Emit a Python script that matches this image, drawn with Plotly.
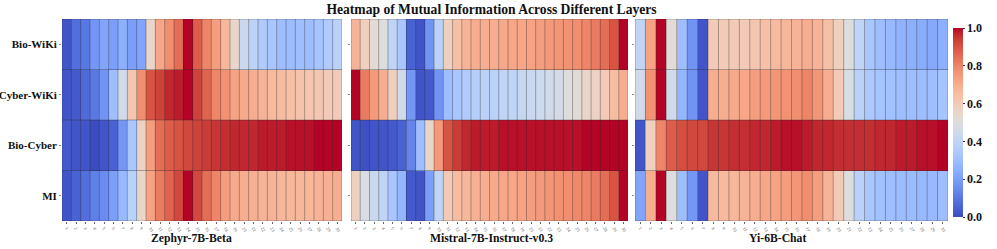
import plotly.graph_objects as go

rows = ["Bio-WiKi", "Cyber-WiKi", "Bio-Cyber", "MI"]
layers = list(range(1, 31))
models = ["Zephyr-7B-Beta", "Mistral-7B-Instruct-v0.3", "Yi-6B-Chat"]

zephyr_bio_wiki = [0.02, 0.08, 0.10, 0.18, 0.22, 0.20, 0.25, 0.20, 0.22, 0.55, 0.72, 0.78, 0.85, 1.00, 0.88,
                   0.80, 0.74, 0.67, 0.55, 0.43, 0.39, 0.35, 0.33, 0.30, 0.29, 0.30, 0.30, 0.32, 0.35, 0.38]
zephyr_cyber_wiki = [0.02, 0.03, 0.07, 0.10, 0.17, 0.30, 0.45, 0.62, 0.78, 0.90, 0.93, 0.97, 0.98, 1.00, 0.93,
                     0.87, 0.80, 0.77, 0.73, 0.71, 0.70, 0.68, 0.66, 0.65, 0.64, 0.63, 0.62, 0.61, 0.60, 0.60]
zephyr_bio_cyber = [0.03, 0.02, 0.02, 0.00, 0.02, 0.05, 0.18, 0.33, 0.57, 0.74, 0.85, 0.88, 0.90, 0.92, 0.93,
                    0.94, 0.95, 0.96, 0.97, 0.97, 0.97, 0.98, 0.98, 0.98, 0.99, 0.99, 0.99, 1.00, 1.00, 1.00]
zephyr_mi = [0.02, 0.05, 0.08, 0.12, 0.15, 0.20, 0.28, 0.38, 0.55, 0.73, 0.82, 0.87, 0.92, 1.00, 0.92,
             0.85, 0.80, 0.74, 0.71, 0.70, 0.69, 0.68, 0.68, 0.67, 0.67, 0.67, 0.67, 0.68, 0.69, 0.70]

mistral_bio_wiki = [0.68, 0.58, 0.52, 0.50, 0.40, 0.33, 0.05, 0.02, 0.17, 0.38, 0.58, 0.64, 0.68, 0.70, 0.70,
                    0.70, 0.71, 0.72, 0.72, 0.73, 0.74, 0.75, 0.76, 0.77, 0.78, 0.80, 0.82, 0.85, 0.90, 1.00]
mistral_cyber_wiki = [1.00, 0.82, 0.75, 0.70, 0.58, 0.45, 0.18, 0.02, 0.03, 0.17, 0.30, 0.33, 0.35, 0.37, 0.38,
                      0.38, 0.40, 0.40, 0.42, 0.43, 0.44, 0.45, 0.47, 0.50, 0.52, 0.55, 0.57, 0.60, 0.65, 0.70]
mistral_bio_cyber = [0.02, 0.01, 0.02, 0.02, 0.03, 0.05, 0.13, 0.30, 0.55, 0.75, 0.90, 0.94, 0.97, 0.98, 0.98,
                     0.98, 0.99, 0.99, 0.99, 0.99, 0.99, 0.99, 0.99, 0.99, 0.99, 1.00, 1.00, 1.00, 1.00, 1.00]
mistral_mi = [0.58, 0.48, 0.43, 0.40, 0.33, 0.27, 0.03, 0.02, 0.20, 0.40, 0.60, 0.65, 0.67, 0.69, 0.70,
              0.71, 0.72, 0.72, 0.73, 0.74, 0.75, 0.76, 0.77, 0.78, 0.79, 0.80, 0.82, 0.85, 0.90, 1.00]

yi_bio_wiki = [0.40, 0.73, 1.00, 0.52, 0.30, 0.17, 0.02, 0.60, 0.60, 0.60, 0.60, 0.62, 0.64, 0.66, 0.67,
               0.68, 0.70, 0.68, 0.64, 0.58, 0.50, 0.40, 0.33, 0.30, 0.28, 0.26, 0.25, 0.24, 0.23, 0.25]
yi_cyber_wiki = [0.45, 0.77, 1.00, 0.45, 0.27, 0.17, 0.02, 0.70, 0.70, 0.71, 0.72, 0.74, 0.75, 0.76, 0.77,
                 0.78, 0.80, 0.76, 0.70, 0.60, 0.48, 0.38, 0.34, 0.32, 0.31, 0.30, 0.30, 0.30, 0.30, 0.32]
yi_bio_cyber = [0.02, 0.58, 0.80, 0.88, 0.91, 0.92, 0.92, 0.95, 0.95, 0.96, 0.96, 0.97, 0.97, 0.98, 0.99,
                0.99, 0.98, 0.97, 0.97, 0.96, 0.96, 0.96, 0.96, 0.97, 0.97, 0.98, 0.98, 0.99, 0.99, 1.00]
yi_mi = [0.22, 0.70, 1.00, 0.50, 0.30, 0.18, 0.02, 0.66, 0.66, 0.67, 0.68, 0.70, 0.72, 0.73, 0.74,
         0.76, 0.78, 0.74, 0.68, 0.60, 0.50, 0.38, 0.33, 0.31, 0.30, 0.29, 0.29, 0.28, 0.28, 0.30]

panels = [
    [zephyr_bio_wiki, zephyr_cyber_wiki, zephyr_bio_cyber, zephyr_mi],
    [mistral_bio_wiki, mistral_cyber_wiki, mistral_bio_cyber, mistral_mi],
    [yi_bio_wiki, yi_cyber_wiki, yi_bio_cyber, yi_mi],
]

# matplotlib "coolwarm" colormap
_cw = [(59, 76, 192), (68, 90, 204), (77, 104, 215), (87, 117, 225), (98, 130, 234), (108, 142, 241),
       (119, 154, 247), (130, 165, 251), (141, 176, 254), (152, 185, 255), (163, 194, 255), (174, 201, 253),
       (184, 208, 249), (194, 213, 244), (204, 217, 238), (213, 219, 230), (221, 221, 221), (229, 216, 209),
       (236, 211, 197), (241, 204, 185), (245, 196, 173), (247, 187, 160), (247, 177, 148), (247, 166, 135),
       (244, 154, 123), (241, 141, 111), (236, 127, 99), (229, 112, 88), (222, 96, 77), (213, 80, 66),
       (203, 62, 56), (192, 40, 47), (180, 4, 38)]
coolwarm = [[i / (len(_cw) - 1), "rgb(%d,%d,%d)" % c] for i, c in enumerate(_cw)]

W, H = 997, 249
x_px = [(62, 342), (351, 628), (635, 948)]
title_px = [191, 491.5, 777]
y_dom = [1 - 221 / H, 1 - 19 / H]
FONT = "Liberation Serif"
grid = "rgba(40,40,40,0.35)"

fig = go.Figure()
for i, (data, name) in enumerate(zip(panels, models)):
    n = "" if i == 0 else str(i + 1)
    fig.add_trace(go.Heatmap(
        z=data, x=layers, y=list(range(len(rows))),
        coloraxis="coloraxis", xaxis="x" + n, yaxis="y" + n,
        hovertemplate=name + "<br>%{text}<br>Layer %{x}: %{z:.2f}<extra></extra>",
        text=[[r] * len(layers) for r in rows],
    ))
    xa = dict(
        domain=[x_px[i][0] / W, x_px[i][1] / W], anchor="y" + n, automargin=False,
        range=[0.5, len(layers) + 0.5], tickmode="array", tickvals=layers,
        ticktext=[str(v) for v in layers], tickangle=60,
        tickfont=dict(family=FONT, size=4.5, color="#555"),
        ticks="outside", ticklen=2, tickwidth=0.5, tickcolor="#666",
        showgrid=False, zeroline=False, showline=False,
    )
    ya = dict(
        domain=y_dom, anchor="x" + n, range=[len(rows) - 0.5, -0.5], automargin=False,
        tickmode="array", tickvals=list(range(len(rows))),
        ticktext=["<b>%s</b>" % r for r in rows] if i == 0 else [""] * len(rows),
        tickfont=dict(family=FONT, size=11, color="#111"),
        ticks="outside", ticklen=2, tickwidth=0.5, tickcolor="#888",
        showgrid=False, zeroline=False, showline=False,
    )
    fig.layout["xaxis" + n] = xa
    fig.layout["yaxis" + n] = ya
    fig.add_annotation(text="<b>%s</b>" % name, xref="paper", yref="paper",
                       x=title_px[i] / W, y=1 - 238.5 / H, xanchor="center", yanchor="middle",
                       showarrow=False, font=dict(family=FONT, size=11.7, color="#111"))
    xr = "x" + n
    yr = "y" + n
    for k in range(len(layers) + 1):
        fig.add_shape(type="line", xref=xr, yref=yr + " domain", x0=k + 0.5, x1=k + 0.5, y0=0, y1=1,
                      line=dict(color=grid, width=1), layer="above")
    for r in range(len(rows) + 1):
        fig.add_shape(type="line", xref=xr + " domain", yref=yr, x0=0, x1=1, y0=r - 0.5, y1=r - 0.5,
                      line=dict(color=grid, width=1), layer="above")

fig.update_layout(
    width=W, height=H,
    margin=dict(l=0, r=0, t=0, b=0, autoexpand=False),
    paper_bgcolor="white", plot_bgcolor="white",
    title=dict(text="<b>Heatmap of Mutual Information Across Different Layers</b>",
               font=dict(family=FONT, size=13.6, color="#111"), x=491.5 / W, xanchor="center",
               y=1 - 9 / H, yanchor="middle"),
    coloraxis=dict(
        colorscale=coolwarm, cmin=0, cmax=1,
        colorbar=dict(
            x=953 / W, xanchor="left", y=1 - 122.5 / H, yanchor="middle",
            len=(217 - 28) / H, lenmode="fraction", thickness=10, xpad=0, ypad=0,
            outlinewidth=0, tickvals=[0, 0.2, 0.4, 0.6, 0.8, 1.0],
            ticktext=["<b>0.0</b>", "<b>0.2</b>", "<b>0.4</b>", "<b>0.6</b>", "<b>0.8</b>", "<b>1.0</b>"],
            ticks="outside", ticklen=2, tickwidth=0.5, tickcolor="#333",
            tickfont=dict(family=FONT, size=12, color="#111"),
        ),
    ),
    showlegend=False,
)

fig.write_html("out.html", config={"displayModeBar": False},
               post_script="document.body.style.margin='0';")
